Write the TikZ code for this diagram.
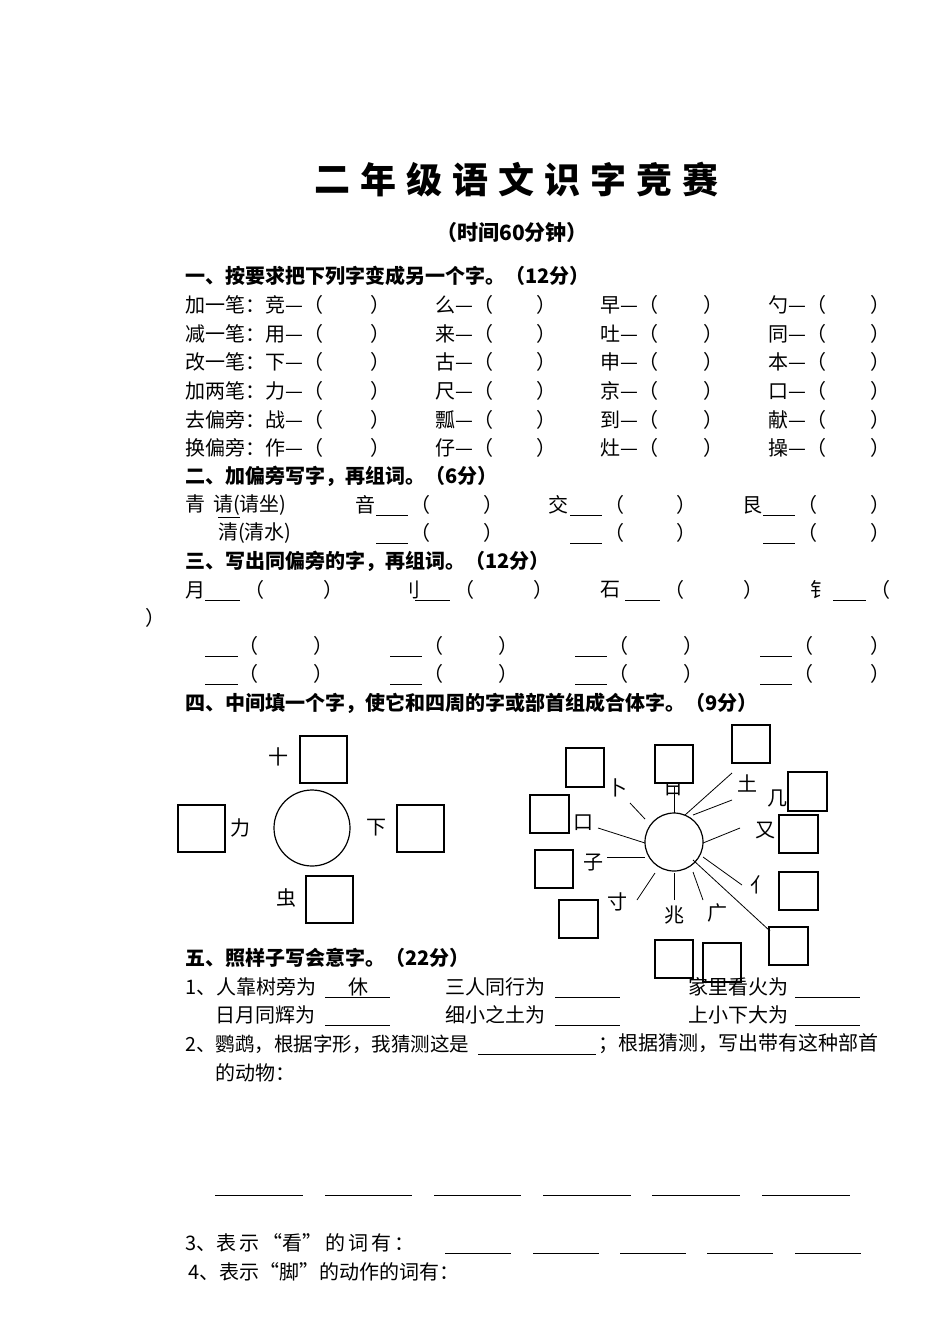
\documentclass[tikz,border=0pt]{standalone}
\usepackage{fontspec}
\setmainfont{Noto Sans CJK SC}
\begin{document}
\begin{tikzpicture}[x=1pt,y=-1pt,font=\fontsize{20}{22}\selectfont,
  tx/.style={anchor=west,inner sep=0pt},
  bx/.style={draw,line width=1.2pt},
  ln/.style={line width=0.8pt}]
\useasboundingbox (0,0) rectangle (950,1342);
\newcommand\T[3]{\node[tx] at ({#1},{#2}) {#3};}
\newcommand\U[3]{\draw[ln] ({#1},{#3}) -- ({#2},{#3});}
% title
\foreach \c [count=\i] in {二,年,级,语,文,识,字,竞,赛}
  \node[font=\fontsize{36}{40}\selectfont\bfseries] at ({313+19+(\i-1)*46},180) {\c};
\node[font=\fontsize{21}{22}\selectfont\bfseries] at (512,233) {（时间60分钟）};
% section 1
\T{185}{276}{\bfseries 一、按要求把下列字变成另一个字。（12分）}
\foreach \a/\b/\c/\d/\e [count=\r] in {加一笔：竞/么/早/勺/x,减一笔：用/来/吐/同/x,改一笔：下/古/申/本/x,加两笔：力/尺/京/口/x,去偏旁：战/瓢/到/献/x,换偏旁：作/仔/灶/操/x}{
  \pgfmathsetmacro\yy{305+(\r-1)*28.6}
  \T{185}{\yy}{\a—（}\T{370}{\yy}{）}
  \T{435}{\yy}{\b—（}\T{536}{\yy}{）}
  \T{600}{\yy}{\c—（}\T{703}{\yy}{）}
  \T{768}{\yy}{\d—（}\T{870}{\yy}{）}
}
% section 2
\T{185}{476}{\bfseries 二、加偏旁写字，再组词。（6分）}
\T{185}{505}{青\hspace{8pt}请(请坐)}
\U{218}{240}{517}
\T{355}{505}{音}\U{376}{408}{515}\T{410}{505}{（}\T{483}{505}{）}
\T{548}{505}{交}\U{570}{602}{515}\T{604}{505}{（}\T{676}{505}{）}
\T{742}{505}{艮}\U{763}{795}{515}\T{797}{505}{（}\T{870}{505}{）}
\T{218}{533}{清(清水)}
\U{376}{408}{543}\T{410}{533}{（}\T{483}{533}{）}
\U{570}{602}{543}\T{604}{533}{（}\T{676}{533}{）}
\U{763}{795}{543}\T{797}{533}{（}\T{870}{533}{）}
% section 3
\T{185}{561}{\bfseries 三、写出同偏旁的字，再组词。（12分）}
\T{185}{590}{月}\U{205}{240}{600}\T{244}{590}{（}\T{323}{590}{）}
\T{400}{590}{刂}\U{415}{450}{600}\T{454}{590}{（}\T{533}{590}{）}
\T{600}{590}{石}\U{625}{660}{600}\T{664}{590}{（}\T{743}{590}{）}
\T{810}{590}{钅}\U{833}{866}{600}\T{870}{590}{（}
\T{145}{618}{）}
\foreach \yy in {646,674}{
  \U{205}{238}{\yy+10}
  \T{238}{\yy}{（}\T{313}{\yy}{）}
  \U{390}{422}{\yy+10}\T{423}{\yy}{（}\T{498}{\yy}{）}
  \U{575}{607}{\yy+10}\T{608}{\yy}{（}\T{683}{\yy}{）}
  \U{760}{792}{\yy+10}\T{793}{\yy}{（}\T{870}{\yy}{）}
}
% section 4
\T{185}{703}{\bfseries 四、中间填一个字，使它和四周的字或部首组成合体字。（9分）}
\draw[line width=1.2pt] (312,828) circle (38);
\node at (278,757) {十}; \draw[bx] (300,736) rectangle (347,783);
\node at (240,828) {力}; \draw[bx] (178,805) rectangle (225,852);
\node at (376,828) {下}; \draw[bx] (397,805) rectangle (444,852);
\node at (286,898) {虫}; \draw[bx] (306,876) rectangle (353,923);
% sun
\draw[line width=1.2pt] (674,842) circle (29);
\node at (673,787) {日};
\node at (792,912) {宀};
\draw[bx,fill=white] (566,748) rectangle (604,787);
\draw[bx,fill=white] (655,745) rectangle (693,783);
\draw[bx,fill=white] (732,725) rectangle (770,763);
\draw[bx,fill=white] (788,772) rectangle (827,811);
\draw[bx,fill=white] (779,815) rectangle (818,853);
\draw[bx,fill=white] (779,872) rectangle (818,910);
\draw[bx,fill=white] (769,927) rectangle (808,965);
\draw[bx,fill=white] (703,943) rectangle (741,982);
\draw[bx,fill=white] (655,940) rectangle (693,978);
\draw[bx,fill=white] (559,900) rectangle (598,938);
\draw[bx,fill=white] (535,850) rectangle (573,888);
\draw[bx,fill=white] (530,795) rectangle (569,833);
\node at (617,788) {卜};
\node at (747,783) {土};
\node at (777,798) {几};
\node at (765,830) {又};
\node at (760,885) {亻};
\node at (717,913) {广};
\node at (674,915) {兆};
\node at (617,902) {寸};
\node at (593,863) {子};
\node at (583,823) {口};
\draw[ln] (630,803)--(645,819);
\draw[ln] (674,787)--(674,813);
\draw[ln] (732,773)--(685,815);
\draw[ln] (732,800)--(693,815);
\draw[ln] (740,828)--(703,843);
\draw[ln] (742,885)--(703,857);
\draw[ln] (770,931)--(693,860);
\draw[ln] (703,900)--(693,872);
\draw[ln] (674,900)--(674,873);
\draw[ln] (637,900)--(655,873);
\draw[ln] (607,857)--(645,857);
\draw[ln] (598,828)--(645,843);
% section 5
\T{185}{958}{\bfseries 五、照样子写会意字。（22分）}
\T{185}{987}{1、人靠树旁为}\U{325}{390}{997}\node at (358,987) {休};
\T{445}{987}{三人同行为}\U{555}{620}{997}
\T{688}{987}{家里看火为}\U{795}{860}{997}
\T{215}{1015}{日月同辉为}\U{325}{390}{1025}
\T{445}{1015}{细小之土为}\U{555}{620}{1025}
\T{688}{1015}{上小下大为}\U{795}{860}{1025}
\node[tx,font=\fontsize{19.5}{22}\selectfont] at (185,1044) {2、鹦鹉，根据字形，我猜测这是};
\U{478}{596}{1054}
\T{598}{1044}{；根据猜测，写出带有这种部首}
\T{215}{1073}{的动物：}
\foreach \a/\b in {215/303,325/412,434/521,543/631,652/740,762/850}{\U{\a}{\b}{1195}}
\T{185}{1243}{3、表\hspace{3pt}示\hspace{3pt}“看”\hspace{3pt}的\hspace{3pt}词\hspace{3pt}有\hspace{3pt}：}
\foreach \a/\b in {445/511,533/599,620/686,707/773,795/861}{\U{\a}{\b}{1253}}
\T{188}{1272}{4、表示“脚”的动作的词有：}
\end{tikzpicture}
\end{document}
